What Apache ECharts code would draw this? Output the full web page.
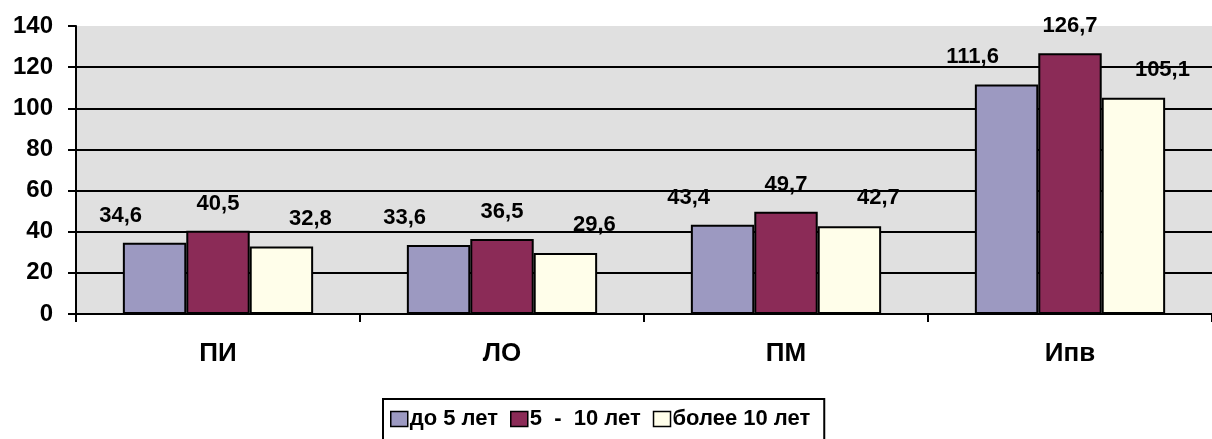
<!DOCTYPE html>
<html><head><meta charset="utf-8">
<script src="https://cdn.jsdelivr.net/npm/echarts@6/dist/echarts.min.js"></script>
<style>html,body{margin:0;padding:0;background:#fff}#c{width:1212px;height:439px}</style>
</head><body><div id="c"></div>
<script>
const categories = ['ПИ', 'ЛО', 'ПМ', 'Ипв'];
const seriesNames = ['до 5 лет', '5  -  10 лет', 'более 10 лет'];
const under5 = [34.6, 33.6, 43.4, 111.6];
const from5to10 = [40.5, 36.5, 49.7, 126.7];
const over10 = [32.8, 29.6, 42.7, 105.1];
const yTicks = [0, 20, 40, 60, 80, 100, 120, 140];

const colors = ['#9c99c1', '#8b2b57', '#fffeea'];
const labelOffsets = [[-34, -11], [0, -11], [29, -12]];
const fontFam = '"Liberation Sans", Arial, sans-serif';

const chart = echarts.init(document.getElementById('c'), null, {renderer: 'canvas'});
const values = [under5, from5to10, over10];
chart.setOption({
  animation: false,
  grid: {left: 76, top: 26, width: 1147, height: 288, show: true, backgroundColor: '#e0e0e0', borderWidth: 0},
  legend: {
    left: 383, top: 399, padding: [9, 14, 30, 7],
    borderColor: '#000', borderWidth: 2,
    icon: 'rect',
    itemWidth: 17, itemHeight: 15, itemGap: 12,
    itemStyle: {borderColor: '#000', borderWidth: 1.5},
    textStyle: {fontFamily: fontFam, fontWeight: 'bold', fontSize: 22, color: '#000', padding: [0, 0, 0, -3]},
    data: seriesNames
  },
  xAxis: {
    type: 'category', data: categories,
    axisLine: {lineStyle: {color: '#000', width: 2}},
    axisTick: {show: true, length: 8, lineStyle: {color: '#000', width: 2}},
    axisLabel: {fontFamily: fontFam, fontWeight: 'bold', fontSize: 26, color: '#000', margin: 27}
  },
  yAxis: {
    type: 'value', min: yTicks[0], max: yTicks[yTicks.length - 1], interval: yTicks[1] - yTicks[0],
    axisLine: {show: true, lineStyle: {color: '#000', width: 2}},
    axisTick: {show: true, length: 8, lineStyle: {color: '#000', width: 2}},
    axisLabel: {fontFamily: fontFam, fontWeight: 'bold', fontSize: 24, color: '#000', margin: 23},
    splitLine: {show: true, showMaxLine: false, lineStyle: {color: '#000', width: 2}}
  },
  series: seriesNames.map((n, i) => ({
    name: n, type: 'bar', data: values[i],
    barCategoryGap: '33%', barGap: '0%',
    itemStyle: {color: colors[i], borderColor: '#000', borderWidth: 2},
    label: {
      show: true, position: 'top', distance: 5, offset: labelOffsets[i],
      fontFamily: fontFam, fontWeight: 'bold', fontSize: 22, color: '#000',
      formatter: p => String(p.value).replace('.', ',')
    }
  }))
});
</script></body></html>
